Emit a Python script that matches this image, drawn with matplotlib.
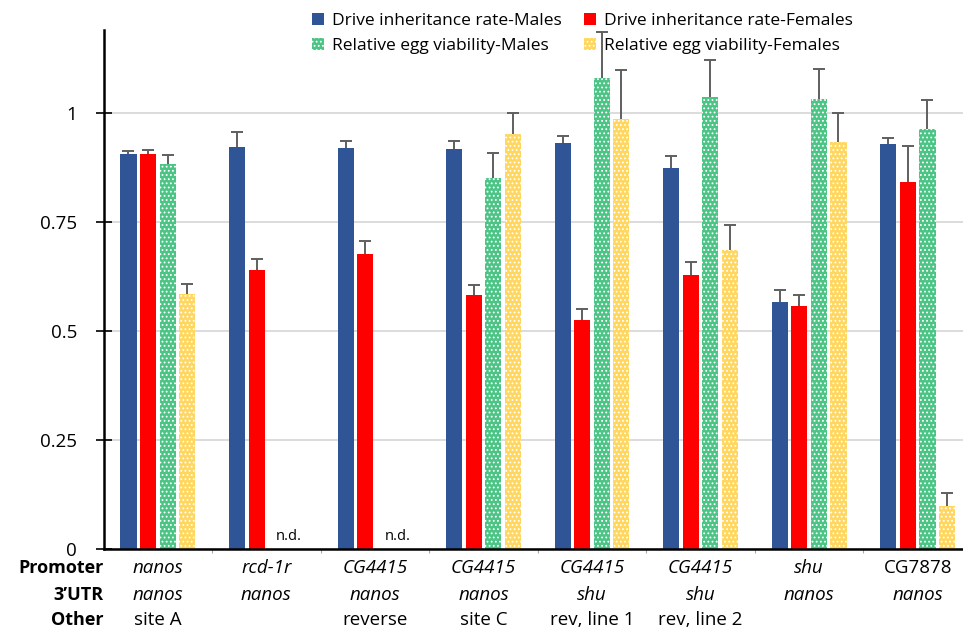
import matplotlib
matplotlib.use('Agg')
import matplotlib.pyplot as plt
import numpy as np

plt.rcParams['font.family'] = ['Open Sans', 'DejaVu Sans']
plt.rcParams['hatch.linewidth'] = 0.8

promoter = ['nanos', 'rcd-1r', 'CG4415', 'CG4415', 'CG4415', 'CG4415', 'shu', 'CG7878']
utr = ['nanos', 'nanos', 'nanos', 'nanos', 'shu', 'shu', 'nanos', 'nanos']
other = ['site A', '', 'reverse', 'site C', 'rev, line 1', 'rev, line 2', '', '']
promoter_italic = [True, True, True, True, True, True, True, False]

drive_m = [0.906, 0.922, 0.919, 0.918, 0.930, 0.873, 0.567, 0.929]
drive_m_err = [0.007, 0.034, 0.017, 0.018, 0.016, 0.027, 0.026, 0.014]
drive_f = [0.905, 0.640, 0.677, 0.583, 0.524, 0.628, 0.557, 0.841]
drive_f_err = [0.009, 0.025, 0.029, 0.023, 0.026, 0.029, 0.026, 0.084]
egg_m = [0.883, np.nan, np.nan, 0.850, 1.080, 1.036, 1.032, 0.963]
egg_m_err = [0.021, 0, 0, 0.059, 0.105, 0.085, 0.069, 0.067]
egg_f = [0.585, np.nan, np.nan, 0.952, 0.985, 0.686, 0.933, 0.099]
egg_f_err = [0.023, 0, 0, 0.048, 0.113, 0.058, 0.066, 0.029]
nd_groups = [1, 2]

fig = plt.figure(figsize=(9.63, 6.3), dpi=100)
ax = fig.add_axes([103.5/963, 81/630, (963-103.5)/963, 519/630])

x = np.arange(len(promoter))
step = 0.18
w = 0.148

series = [
    (drive_m, drive_m_err, 'Drive inheritance rate-Males', '#2f5597', None),
    (drive_f, drive_f_err, 'Drive inheritance rate-Females', '#ff0000', None),
    (egg_m, egg_m_err, 'Relative egg viability-Males', '#4cc485', '....'),
    (egg_f, egg_f_err, 'Relative egg viability-Females', '#ffd65e', '....'),
]

handles = []
for i, (vals, errs, name, col, hatch) in enumerate(series):
    pos = x + (i - 1.5) * step
    vals = np.array(vals)
    errs = np.array(errs)
    if hatch:
        b = ax.bar(pos, vals, w, color=col, edgecolor='white', hatch=hatch,
                   linewidth=0, label=name, zorder=2)
    else:
        b = ax.bar(pos, vals, w, color=col, linewidth=0, label=name, zorder=2)
    handles.append(b)
    ok = ~np.isnan(vals)
    eb = ax.errorbar(pos[ok], vals[ok], yerr=[np.zeros(ok.sum()), errs[ok]],
                     fmt='none', ecolor='#5f5f5f', elinewidth=1.4, capsize=4,
                     capthick=1.4, zorder=3)
    # only the upper cap
    eb[1][0].set_visible(False)

for g in nd_groups:
    ax.text(g + 0.21, 0.012, 'n.d.', ha='center', va='bottom', fontsize=10.5)

ax.set_xlim(-0.5, 7.417)
ax.set_ylim(0, 1.19)
ax.set_yticks([0, 0.25, 0.5, 0.75, 1])
ax.set_yticklabels(['0', '0.25', '0.5', '0.75', '1'], fontsize=13.5)
ax.yaxis.grid(True, color='#d9d9d9', linewidth=1.3, zorder=0)
ax.set_axisbelow(True)
ax.tick_params(axis='y', direction='inout', length=12, width=1.2, pad=13)

ax.set_xticks(np.arange(0.5, 7.5, 1))
ax.set_xticklabels([])
ax.tick_params(axis='x', direction='out', length=3, color='#aaaaaa')

for s in ['top', 'right']:
    ax.spines[s].set_visible(False)
ax.spines['left'].set_linewidth(1.8)
ax.spines['bottom'].set_linewidth(1.8)

tr = ax.get_xaxis_transform()
rows = [-0.037, -0.089, -0.137]
for i in range(len(promoter)):
    ax.text(x[i], rows[0], promoter[i], transform=tr, ha='center', va='center',
            fontsize=13.5, style='italic' if promoter_italic[i] else 'normal')
    ax.text(x[i], rows[1], utr[i], transform=tr, ha='center', va='center',
            fontsize=13.5, style='italic')
    ax.text(x[i], rows[2], other[i], transform=tr, ha='center', va='center',
            fontsize=13.5)

for lab, yy in zip(['Promoter', '3\u2019UTR', 'Other'], rows):
    ax.text(0.0, yy, lab, transform=ax.transAxes, ha='right', va='center',
            fontsize=13, fontweight='bold')

# two columns filled top to bottom, so pass them column by column
order = [0, 2, 1, 3]
ax.legend([handles[k] for k in order], [series[k][2] for k in order],
          ncol=2, loc='upper left', bbox_to_anchor=(0.224, 1.063),
          frameon=False, fontsize=12.5, handlelength=0.7, handleheight=0.7,
          handletextpad=0.45, columnspacing=1.3, labelspacing=0.5)

fig.savefig('out.png', dpi=100)
